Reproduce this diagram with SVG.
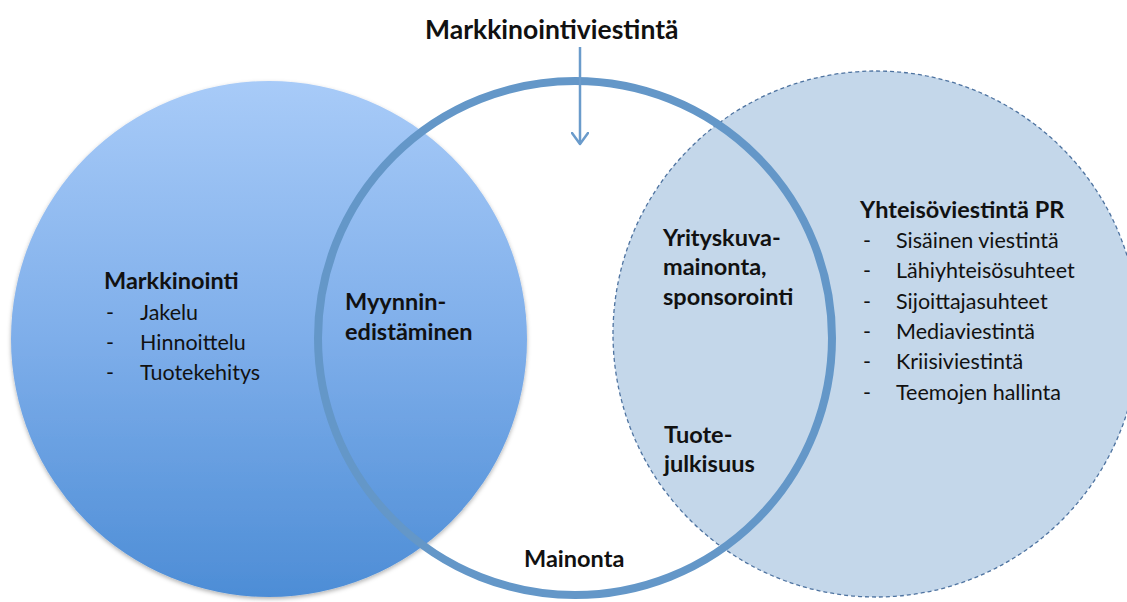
<svg xmlns="http://www.w3.org/2000/svg" width="1127" height="602" viewBox="0 0 1127 602">
<style>
  text { font-family: Lato, "Open Sans", "Liberation Sans", sans-serif; fill: #111; }
  .b { font-weight: bold; font-size: 23.5px; }
  .r { font-size: 21.5px; }
  .title { font-weight: bold; font-size: 26.5px; }
</style>
<defs>
  <linearGradient id="gl" x1="0" y1="0" x2="0" y2="1">
    <stop offset="0" stop-color="#a8cbf8"/>
    <stop offset="0.5" stop-color="#7eaeea"/>
    <stop offset="1" stop-color="#4d8dd6"/>
  </linearGradient>
  <filter id="sh" x="-10%" y="-10%" width="120%" height="120%">
    <feDropShadow dx="0" dy="2" stdDeviation="2" flood-color="#000" flood-opacity="0.3"/>
  </filter>
  <marker id="ah" viewBox="0 0 14 18" refX="12" refY="9" markerWidth="14" markerHeight="18" markerUnits="userSpaceOnUse" orient="auto">
    <path d="M1,1 L12,9 L1,17" fill="none" stroke="#6a9bcb" stroke-width="2.5" stroke-linecap="round" stroke-linejoin="round"/>
  </marker>
</defs>
<rect width="1127" height="602" fill="#fff"/>
<g id="mainonta-bg">
  <circle cx="575" cy="338" r="257" fill="#fff"/>
</g>
<g id="markkinointi">
  <circle cx="269" cy="339" r="258" fill="url(#gl)" filter="url(#sh)"/>
  <text class="b" x="104" y="289">Markkinointi</text>
  <text class="r" x="106" y="320">-</text><text class="r" x="140" y="320">Jakelu</text>
  <text class="r" x="106" y="350">-</text><text class="r" x="140" y="350">Hinnoittelu</text>
  <text class="r" x="106" y="380">-</text><text class="r" x="140" y="380">Tuotekehitys</text>
</g>
<g id="yhteisoviestinta">
  <circle cx="876" cy="334" r="263" fill="#c4d7ea" stroke="#4e73a0" stroke-width="1.3" stroke-dasharray="4 3"/>
  <text class="b" x="860" y="218">Yhteisöviestintä PR</text>
  <text class="r" x="863" y="248">-</text><text class="r" x="896" y="248">Sisäinen viestintä</text>
  <text class="r" x="863" y="278">-</text><text class="r" x="896" y="278">Lähiyhteisösuhteet</text>
  <text class="r" x="863" y="309">-</text><text class="r" x="896" y="309">Sijoittajasuhteet</text>
  <text class="r" x="863" y="339">-</text><text class="r" x="896" y="339">Mediaviestintä</text>
  <text class="r" x="863" y="369">-</text><text class="r" x="896" y="369">Kriisiviestintä</text>
  <text class="r" x="863" y="400">-</text><text class="r" x="896" y="400">Teemojen hallinta</text>
</g>
<g id="mainonta">
  <circle cx="575" cy="338" r="257" fill="none" stroke="#6497c8" stroke-width="8"/>
  <text class="b" x="524" y="567">Mainonta</text>
</g>
<g id="myynninedistaminen">
  <text class="b" x="345" y="310">Myynnin-</text>
  <text class="b" x="345" y="340">edistäminen</text>
</g>
<g id="yrityskuvamainonta">
  <text class="b" x="663" y="246">Yrityskuva-</text>
  <text class="b" x="663" y="275">mainonta,</text>
  <text class="b" x="663" y="305">sponsorointi</text>
</g>
<g id="tuotejulkisuus">
  <text class="b" x="664" y="443">Tuote-</text>
  <text class="b" x="664" y="472">julkisuus</text>
</g>
<g id="markkinointiviestinta">
  <text class="title" x="425" y="39">Markkinointiviestintä</text>
</g>
<g id="connectors">
  <line x1="580" y1="47" x2="580" y2="144" stroke="#6a9bcb" stroke-width="2.5" marker-end="url(#ah)"/>
</g>
</svg>
